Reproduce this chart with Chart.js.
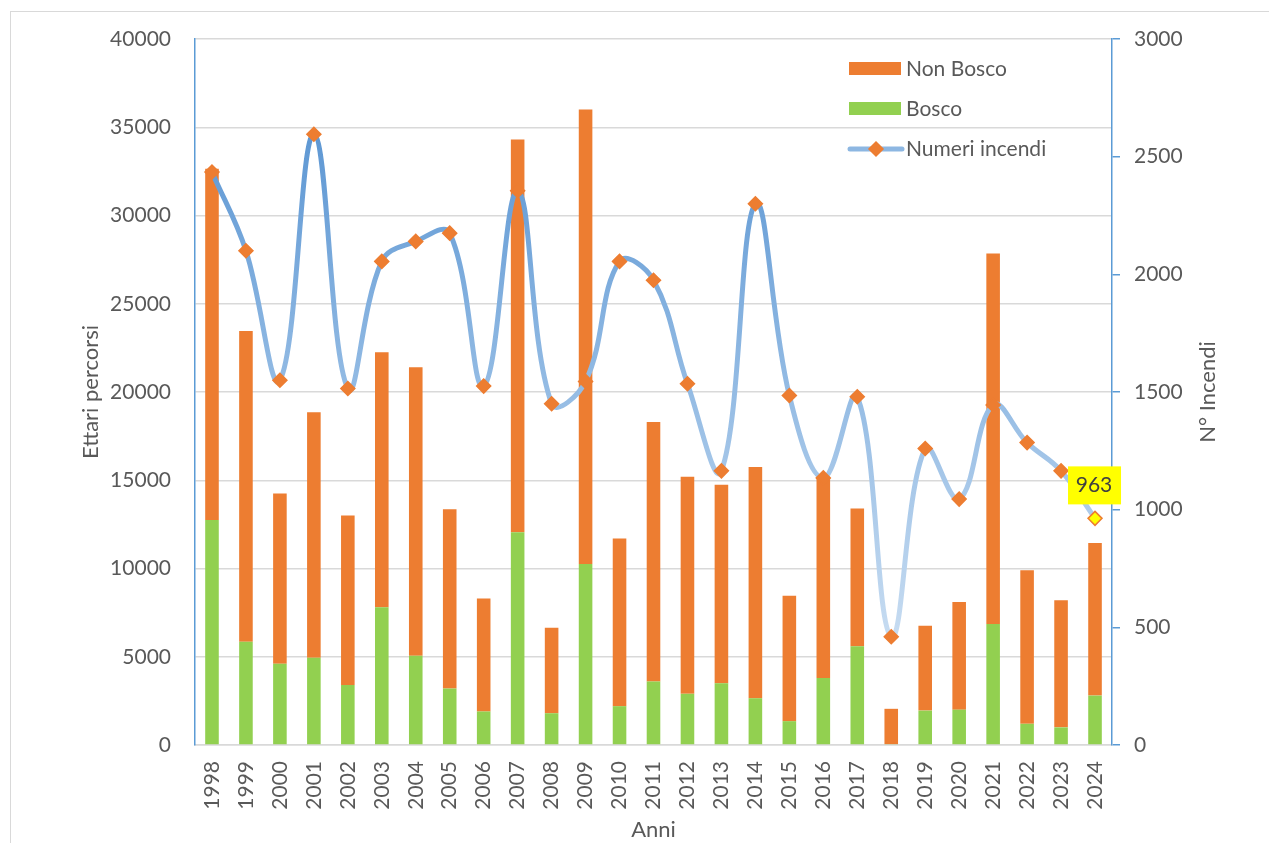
<!DOCTYPE html>
<html>
<head>
<meta charset="utf-8">
<script src="https://cdn.jsdelivr.net/npm/chart.js@4.4.1/dist/chart.umd.min.js"></script>
<style>
body { margin: 0; background: #fff; }
#wrap { position: relative; width: 1269px; height: 843px; overflow: hidden; }
#frame { position: absolute; left: 10px; top: 11px; width: 1300px; height: 900px; border: 1px solid #d9d9d9; box-sizing: border-box; }
#myChart { position: absolute; left: 0; top: 0; }
</style>
</head>
<body>
<div id="wrap">
  <div id="frame"></div>
  <canvas id="myChart" width="1269" height="843"></canvas>
</div>
<script>
// dati
var anni = ['1998','1999','2000','2001','2002','2003','2004','2005','2006','2007','2008','2009','2010',
            '2011','2012','2013','2014','2015','2016','2017','2018','2019','2020','2021','2022','2023','2024'];
var bosco = [12750, 5850, 4600, 4950, 3400, 7800, 5050, 3200, 1900, 12050, 1800, 10250, 2200,
             3600, 2900, 3500, 2650, 1350, 3800, 5600, 50, 1950, 2000, 6850, 1200, 1000, 2800];
var nonBosco = [19900, 17600, 9650, 13900, 9600, 14450, 16350, 10150, 6400, 22250, 4850, 25750, 9500,
                14700, 12300, 11250, 13100, 7100, 11400, 7800, 2000, 4800, 6100, 21000, 8700, 7200, 8650];
var incendi = [2435, 2100, 1550, 2595, 1515, 2055, 2140, 2175, 1525, 2355, 1450, 1545, 2055,
               1975, 1535, 1165, 2300, 1485, 1135, 1480, 460, 1260, 1045, 1445, 1285, 1165, 963];

var ettariMax = 40000, ettariStep = 5000;
var incendiMax = 3000, incendiStep = 500;

var ORANGE = '#ED7D31', GREEN = '#92D050', BLUE = '#5B9BD5', GREY = '#595959';
var FONT = 'Lato';

Chart.defaults.font.family = FONT;
Chart.defaults.color = GREY;

var puntiColore = incendi.map(function (v, i) {
  return i === incendi.length - 1 ? '#FFFF00' : ORANGE;
});

// numeri senza separatore delle migliaia
function plain(v) { return String(v); }

function drawDiamond(ctx, x, y, r, fill, stroke) {
  ctx.beginPath();
  ctx.moveTo(x, y - r);
  ctx.lineTo(x + r, y);
  ctx.lineTo(x, y + r);
  ctx.lineTo(x - r, y);
  ctx.closePath();
  ctx.fillStyle = fill;
  ctx.fill();
  ctx.lineWidth = 1.5;
  ctx.strokeStyle = stroke;
  ctx.stroke();
}

// legenda, titolo asse destro ed etichetta dell'ultimo valore
var extras = {
  id: 'extras',
  afterDraw: function (chart) {
    var ctx = chart.ctx;
    var ca = chart.chartArea;
    ctx.save();

    // legenda dentro l'area del grafico
    var lx = ca.right - 263;
    var items = [
      { y: 69, text: 'Non Bosco', type: 'bar', color: ORANGE },
      { y: 109, text: 'Bosco', type: 'bar', color: GREEN },
      { y: 149, text: 'Numeri incendi', type: 'line' }
    ];
    ctx.font = '21px ' + FONT;
    ctx.textBaseline = 'middle';
    ctx.textAlign = 'left';
    items.forEach(function (it) {
      if (it.type === 'bar') {
        ctx.fillStyle = it.color;
        ctx.fillRect(lx, it.y - 7, 52, 13);
      } else {
        ctx.beginPath();
        ctx.moveTo(lx + 1, it.y);
        ctx.lineTo(lx + 53, it.y);
        ctx.lineWidth = 5;
        ctx.lineCap = 'round';
        ctx.strokeStyle = '#8DB7E2';
        ctx.stroke();
        drawDiamond(ctx, lx + 27, it.y, 7, ORANGE, ORANGE);
      }
      ctx.fillStyle = GREY;
      ctx.fillText(it.text, lx + 57, it.y);
    });

    // titolo asse destro (letto dal basso verso l'alto)
    ctx.save();
    ctx.translate(1208, (ca.top + ca.bottom) / 2);
    ctx.rotate(-Math.PI / 2);
    ctx.textAlign = 'center';
    ctx.textBaseline = 'middle';
    ctx.fillStyle = GREY;
    ctx.font = '22px ' + FONT;
    ctx.fillText('N° Incendi', 0, 0);
    ctx.restore();

    // etichetta gialla sull'ultimo punto
    var meta = chart.getDatasetMeta(0);
    var last = meta.data[meta.data.length - 1];
    var px = last.x, py = last.y;
    ctx.fillStyle = '#FFFF00';
    ctx.fillRect(px - 27, py - 52, 53, 38);
    ctx.fillStyle = '#404040';
    ctx.font = '21px ' + FONT;
    ctx.textAlign = 'center';
    ctx.textBaseline = 'middle';
    ctx.fillText(String(incendi[incendi.length - 1]), px - 1, py - 33);

    ctx.restore();
  }
};

var ctx = document.getElementById('myChart').getContext('2d');
var chart = new Chart(ctx, {
  type: 'bar',
  data: {
    labels: anni,
    datasets: [{
      type: 'line',
      label: 'Numeri incendi',
      data: incendi,
      yAxisID: 'y1',
      order: 0,
      tension: 0.4,
      borderWidth: 5,
      borderColor: function (c) {
        var ca = c.chart.chartArea;
        if (!ca) return '#8DB7E2';
        var g = c.chart.ctx.createLinearGradient(0, ca.top, 0, ca.bottom);
        g.addColorStop(0, '#4A8ACD');
        g.addColorStop(0.45, '#8DB7E2');
        g.addColorStop(1, '#DDEAF7');
        return g;
      },
      pointStyle: 'rectRot',
      pointRadius: 7,
      pointHoverRadius: 7,
      pointBackgroundColor: puntiColore,
      pointBorderColor: ORANGE,
      pointBorderWidth: 1.5
    }, {
      label: 'Bosco',
      data: bosco,
      backgroundColor: GREEN,
      yAxisID: 'y',
      order: 1,
      barPercentage: 0.4,
      categoryPercentage: 1
    }, {
      label: 'Non Bosco',
      data: nonBosco,
      backgroundColor: ORANGE,
      yAxisID: 'y',
      order: 2,
      barPercentage: 0.4,
      categoryPercentage: 1
    }]
  },
  options: {
    responsive: false,
    animation: false,
    layout: { padding: { top: 39, left: 0, right: 0, bottom: 0 } },
    plugins: {
      legend: { display: false },
      tooltip: { enabled: false }
    },
    scales: {
      x: {
        stacked: true,
        grid: { display: false },
        border: { display: true, color: '#D9D9D9', width: 1.5 },
        ticks: { autoSkip: false, minRotation: 90, maxRotation: 90, padding: 8, color: GREY, font: { size: 21 } },
        title: { display: true, text: 'Anni', color: GREY, font: { size: 22 }, padding: { top: 0, bottom: 0 } },
        afterFit: function (s) { s.height = 98; }
      },
      y: {
        stacked: true,
        position: 'left',
        min: 0,
        max: ettariMax,
        ticks: { stepSize: ettariStep, padding: 24, color: GREY, font: { size: 21 }, callback: plain },
        grid: { color: '#D9D9D9', lineWidth: 1.5, drawTicks: false },
        border: { color: BLUE, width: 1.5 },
        title: { display: true, text: 'Ettari percorsi', color: GREY, font: { size: 22 }, padding: { top: 78, bottom: 0 } },
        afterFit: function (s) { s.width = 195; }
      },
      y1: {
        position: 'right',
        min: 0,
        max: incendiMax,
        ticks: { stepSize: incendiStep, padding: 14, color: GREY, font: { size: 21 }, callback: plain },
        grid: { drawOnChartArea: false, color: BLUE, lineWidth: 1.5, tickLength: 8 },
        border: { color: BLUE, width: 1.5 },
        afterFit: function (s) { s.width = 157; }
      }
    }
  },
  plugins: [extras]
});
</script>
</body>
</html>
